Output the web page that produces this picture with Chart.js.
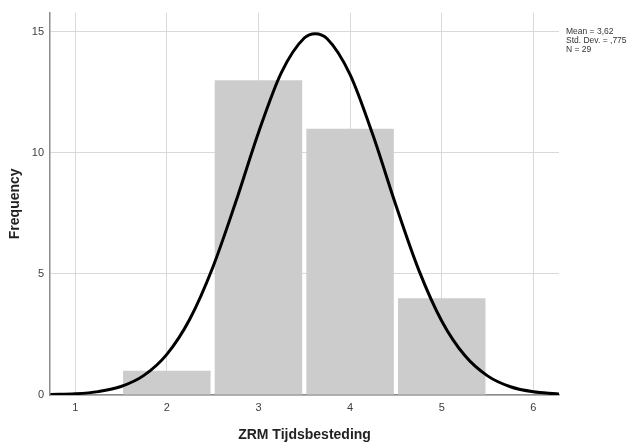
<!DOCTYPE html>
<html>
<head>
<meta charset="utf-8">
<script src="https://cdn.jsdelivr.net/npm/chart.js@4"></script>
<style>
  html, body { margin: 0; padding: 0; background: #fff; }
  #wrap { width: 637px; height: 444px; }
</style>
</head>
<body>
<div id="wrap"><canvas id="histChart" width="637" height="444"></canvas></div>
<script>
// histogram bins (score -> count)
const binCenters = [2, 3, 4, 5];
const frequencies = [1, 13, 11, 4];

// normal curve
const curveX = [0.73, 1.0, 1.25, 1.5, 1.75, 2.0, 2.25, 2.5, 2.75, 3.0, 3.25, 3.5, 3.62, 3.75,
                4.0, 4.25, 4.5, 4.75, 5.0, 5.25, 5.5, 5.75, 6.0, 6.25, 6.28];
const curveY = [0.02, 0.05, 0.14, 0.35, 0.81, 1.68, 3.13, 5.26, 7.95, 10.84, 13.32, 14.75, 14.93, 14.72,
                13.24, 10.73, 7.84, 5.16, 3.06, 1.64, 0.79, 0.34, 0.13, 0.05, 0.04];

const xTicks = [1, 2, 3, 4, 5, 6];
const yTicks = [0, 5, 10, 15];
const statsLines = ['Mean = 3,62', 'Std. Dev. = ,775', 'N = 29'];

const statsBox = {
    id: 'statsBox',
    afterDraw(chart) {
        const ctx = chart.ctx;
        ctx.save();
        ctx.font = '8.5px "Liberation Sans", Arial, sans-serif';
        ctx.fillStyle = '#333';
        ctx.textBaseline = 'middle';
        statsLines.forEach((t, i) => ctx.fillText(t, 566, 32 + i * 8.7));
        ctx.restore();
    }
};

const ctx = document.getElementById('histChart').getContext('2d');
new Chart(ctx, {
    type: 'bar',
    data: {
        datasets: [{
            type: 'line',
            data: curveX.map((x, i) => ({ x: x, y: curveY[i] })),
            borderColor: '#000',
            borderWidth: 3,
            pointRadius: 0,
            fill: false,
            cubicInterpolationMode: 'monotone',
            order: 0
        }, {
            type: 'bar',
            data: binCenters.map((x, i) => ({ x: x, y: frequencies[i] })),
            backgroundColor: '#cccccc',
            borderWidth: 0,
            barPercentage: 0.955,
            categoryPercentage: 1,
            order: 1
        }]
    },
    options: {
        responsive: false,
        animation: false,
        layout: { padding: { top: 6, right: 78, bottom: 0, left: 0 } },
        plugins: {
            legend: { display: false },
            tooltip: { enabled: false }
        },
        scales: {
            x: {
                type: 'linear',
                min: 0.725,
                max: 6.28,
                offset: false,
                afterBuildTicks: s => { s.ticks = xTicks.map(v => ({ value: v })); },
                afterFit: s => { s.height = 49; },
                grid: { color: '#d9d9d9', lineWidth: 1, drawTicks: false, offset: false },
                border: { color: '#8c8c8c', width: 1.5 },
                ticks: {
                    padding: 6,
                    color: '#404040',
                    font: { family: '"Liberation Sans", Arial, sans-serif', size: 11 }
                },
                title: {
                    display: true,
                    text: 'ZRM Tijdsbesteding',
                    color: '#222',
                    padding: { top: 12, bottom: 0 },
                    font: { family: '"Liberation Sans", Arial, sans-serif', size: 14, weight: 'bold' }
                }
            },
            y: {
                min: 0,
                max: 15.8,
                afterBuildTicks: s => { s.ticks = yTicks.map(v => ({ value: v })); },
                afterFit: s => { s.width = 50; },
                grid: { color: '#d9d9d9', lineWidth: 1, drawTicks: false },
                border: { color: '#8c8c8c', width: 1.5 },
                ticks: {
                    padding: 6,
                    color: '#404040',
                    font: { family: '"Liberation Sans", Arial, sans-serif', size: 11 }
                },
                title: {
                    display: true,
                    text: 'Frequency',
                    color: '#222',
                    padding: { top: 7, bottom: 0 },
                    font: { family: '"Liberation Sans", Arial, sans-serif', size: 14, weight: 'bold' }
                }
            }
        }
    },
    plugins: [statsBox]
});
</script>
</body>
</html>
